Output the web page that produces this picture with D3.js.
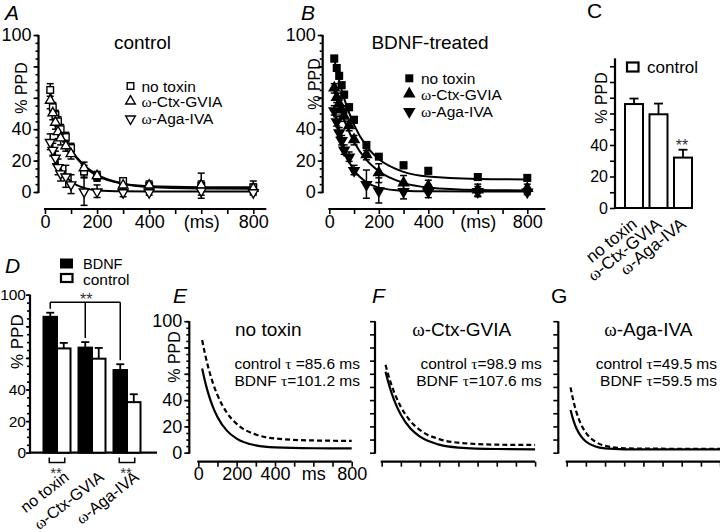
<!DOCTYPE html>
<html><head><meta charset="utf-8">
<script src="https://cdn.jsdelivr.net/npm/d3@7"></script>
<style>
body{margin:0;background:#fff}
svg{display:block}
</style></head><body>
<svg id="c" width="720" height="532"></svg>
<script>
// ---------- data ----------
const times = [20,30,40,50,60,80,100,150,200,300,400,600,800];
const fitTimes = [20,35,50,75,100,150,200,300,400,600,800];
const toxins = ["no toxin","ω-Ctx-GVIA","ω-Aga-IVA"];

// A: control
const ctlNoToxin    = [65,54,49,45,40,35,28,13,10,7,4,4,3];
const ctlNoToxinErr = [4,3,3,3,3,3,3,4,3,2,3,8,4];
const ctlCtx        = [58,50,44,38,34,29,24,15,10,4,4,4,2];
const ctlCtxErr     = [5,4,4,4,4,3,3,4,3,2,2,3,3];
const ctlAga        = [32,27,22,16,12,10,5,0.5,0.5,0,0,1,0];
const ctlAgaErr     = [5,4,4,5,5,7,6,9,4,3,2,3,2];
const ctlNoToxinFit = [64.0,54.2,45.9,35.1,26.9,16.4,10.4,5.3,3.7,3.1,3.0];
const ctlCtxFit     = [58.0,50.1,43.3,34.1,26.9,17.0,11.1,5.3,3.2,2.2,2.0];
const ctlAgaFit     = [32.3,24.0,17.8,10.8,6.7,2.6,1.1,0.4,0.3,0.3,0.3];

// B: BDNF-treated
const bdnfNoToxin    = [85,79,74,68,62,54,46,30,22.5,17,13.5,9.5,9];
const bdnfNoToxinErr = [2,2,2,2,2,2,2,2,1.5,2,2,2,2];
const bdnfCtx        = [66,60,56,52,48,42,33,23.5,12,5.5,3.5,1,2];
const bdnfCtxErr     = [3,3,3,3,3,3,3,3,6,5,4,4,3];
const bdnfAga        = [52,45,38,33,27,22.5,14,5,1,0.6,0.4,0.5,0.3];
const bdnfAgaErr     = [3,3,3,3,3,3,3,9,8,5,4,3,2];
const bdnfNoToxinFit = [84.7,74.2,65.0,52.6,42.8,29.2,21.0,12.8,9.8,8.3,8.0];
const bdnfCtxFit     = [66.0,57.6,50.2,40.0,31.9,20.4,13.2,5.8,2.9,1.3,1.0];
const bdnfAgaFit     = [52.3,40.7,31.7,20.9,13.9,6.2,2.8,0.8,0.4,0.3,0.3];

// C / D: bar values (at 20 ms)
const barBDNF    = [86,66.5,52.3];
const barBDNFErr = [2.6,3.5,3.7];
const barCtl     = [66,59.5,32];
const barCtlErr  = [3.5,6.8,5];

// E-G: fitted curves compared
const eCtlFit  = [64.1,54.3,46.1,35.3,27.2,16.6,10.7,5.6,4.0,3.4,3.3];
const eBdnfFit = [85.7,75.1,66.0,53.5,43.8,30.2,21.9,13.8,10.8,9.3,9.0];
const fCtlFit  = [61.6,53.3,46.1,36.4,28.9,18.4,12.2,6.1,3.9,2.8,2.6];
const fBdnfFit = [66.8,58.8,51.9,42.4,34.8,24.0,17.2,10.3,7.6,6.1,5.9];
const gCtlFit  = [32.5,24.6,18.8,12.4,8.5,4.7,3.3,2.6,2.5,2.5,2.5];
const gBdnfFit = [49.7,39.3,31.2,21.5,15.2,8.3,5.3,3.4,3.1,3.0,3.0];
const tauCtl  = ["85.6","98.9","49.5"];
const tauBdnf = ["101.2","107.6","59.5"];

const yLabelsMain = [0,20,40,100];
const yLabelsC = [0,20,40];
const xLabelVals = [0,200,400,600,800];

// ---------- helpers ----------
const FONT = '"Liberation Sans", Arial, Helvetica, sans-serif';
const SERIF = '"Liberation Serif", "Times New Roman", serif';
const svg = d3.select('#c').attr('font-family', FONT);

function rich(t, s){
  s.split(/(ω|τ)/).forEach(p=>{
    if(!p) return;
    const ts = t.append('tspan').text(p);
    if(p==='ω'||p==='τ') ts.attr('font-family', SERIF);
  });
  return t;
}
function txt(x,y,s,size,anchor,extra){
  const t = svg.append('text').attr('x',x).attr('y',y).attr('font-size',size)
    .attr('text-anchor',anchor||'start').attr('fill','#000');
  if(extra) t.attr('font-style',extra);
  return rich(t,s);
}
function ylab(x,y,size){
  svg.append('text').attr('transform',`translate(${x},${y}) rotate(-90)`)
    .attr('text-anchor','middle').attr('font-size',size).text('% PPD');
}
function styleAx(g,size){
  g.attr('font-family',FONT).attr('font-size',size);
  g.select('.domain').remove();
  g.selectAll('.tick line').attr('stroke','#000').attr('stroke-width',1.6);
  g.selectAll('.tick text').attr('fill','#000');
}
function yAxis(x0, y, top, minorStep, majorStep, labels, size, pad, majLen){
  const g = svg.append('g').attr('transform',`translate(${x0},0)`);
  if(minorStep){
    g.append('g').call(d3.axisLeft(y).tickValues(d3.range(0,top+0.01,minorStep)).tickSize(3).tickFormat(''))
      .call(s=>styleAx(s,size));
  }
  g.append('g').call(d3.axisLeft(y).tickValues(d3.range(0,top+0.01,majorStep)).tickSize(majLen||5)
      .tickPadding(pad==null?2:pad).tickFormat(d=>labels.includes(d)?d:''))
    .call(s=>styleAx(s,size));
  g.append('line').attr('x1',0).attr('x2',0).attr('y1',y(0)+1).attr('y2',y(top))
    .attr('stroke','#000').attr('stroke-width',2.2);
}
function xAxis(x, y0, ext, fmt, size){
  const g = svg.append('g').attr('transform',`translate(0,${y0})`);
  g.call(d3.axisBottom(x).tickValues(d3.range(0,801,100)).tickSize(5).tickPadding(1).tickFormat(fmt))
    .call(s=>styleAx(s,size));
  g.append('line').attr('x1',x(0)-1).attr('x2',x(800)+ext).attr('y1',0).attr('y2',0)
    .attr('stroke','#000').attr('stroke-width',2.2);
}
function marker(g,type,filled,cx,cy){
  const fill = filled?'#000':'#fff';
  if(type==='square'){
    g.append('rect').attr('x',cx-3.3).attr('y',cy-3.3).attr('width',6.6).attr('height',6.6)
      .attr('fill',fill).attr('stroke','#000').attr('stroke-width',1.4);
  } else {
    g.append('path').attr('d',d3.symbol(d3.symbolTriangle,filled?44:40)())
      .attr('transform',`translate(${cx},${cy + (type==='down'?0.5:-0.5)}) rotate(${type==='down'?180:0})`)
      .attr('fill',fill).attr('stroke','#000').attr('stroke-width',1.4);
  }
}
const fitLine = (x,y)=>d3.line().x(d=>x(d[0])).y(d=>y(d[1])).curve(d3.curveMonotoneX);

function scatterPanel(x,y,series,filled){
  const g = svg.append('g');
  series.forEach(s=>{
    g.append('path').datum(fitTimes.map((t,i)=>[t,s.fit[i]]))
      .attr('d',fitLine(x,y)).attr('fill','none').attr('stroke','#000').attr('stroke-width',2);
  });
  series.forEach(s=>{
    times.forEach((t,i)=>{
      const v=s.vals[i], e=s.err[i], cx=x(t);
      g.append('line').attr('x1',cx).attr('x2',cx).attr('y1',y(v-e)).attr('y2',y(v+e))
        .attr('stroke','#000').attr('stroke-width',1.5);
      [v-e,v+e].forEach(w=>g.append('line').attr('x1',cx-3.5).attr('x2',cx+3.5)
        .attr('y1',y(w)).attr('y2',y(w)).attr('stroke','#000').attr('stroke-width',1.5));
    });
  });
  series.forEach(s=>times.forEach((t,i)=>marker(g,s.type,filled,x(t),y(s.vals[i]))));
}

// ---------- Panel A ----------
const xA = d3.scaleLinear([0,800],[45,253.3]);
const yA = d3.scaleLinear([0,100],[192,35]);
yAxis(38.5,yA,100,5,20,yLabelsMain,18);
xAxis(xA,209,13,d=>d===600?'(ms)':(xLabelVals.includes(d)?d:''),18);
ylab(26.5,88,16);
scatterPanel(xA,yA,[
  {vals:ctlNoToxin,err:ctlNoToxinErr,fit:ctlNoToxinFit,type:'square'},
  {vals:ctlCtx,err:ctlCtxErr,fit:ctlCtxFit,type:'up'},
  {vals:ctlAga,err:ctlAgaErr,fit:ctlAgaFit,type:'down'}],false);
txt(142.5,48.5,'control',19,'middle');
txt(5,20,'A',21,'start','italic');
{
  const lg = svg.append('g');
  ['square','up','down'].forEach((tp,i)=>{
    const yy=[86,101.7,118.3][i];
    marker(lg,tp,false,130.5,yy);
    txt(141.5,yy+5.5,toxins[i],15.5);
  });
}

// ---------- Panel B ----------
const xB = d3.scaleLinear([0,800],[329.3,527.3]);
const yB = d3.scaleLinear([0,100],[192,35]);
yAxis(322.7,yB,100,5,20,yLabelsMain,18);
xAxis(xB,209,18,d=>d===600?'(ms)':(xLabelVals.includes(d)?d:''),18);
ylab(320,84,16);
scatterPanel(xB,yB,[
  {vals:bdnfNoToxin,err:bdnfNoToxinErr,fit:bdnfNoToxinFit,type:'square'},
  {vals:bdnfCtx,err:bdnfCtxErr,fit:bdnfCtxFit,type:'up'},
  {vals:bdnfAga,err:bdnfAgaErr,fit:bdnfAgaFit,type:'down'}],true);
txt(430,48.5,'BDNF-treated',19,'middle');
txt(301,20,'B',21,'start','italic');
{
  const lg = svg.append('g');
  ['square','up','down'].forEach((tp,i)=>{
    const yy=[78.3,94.3,111][i];
    marker(lg,tp,true,409.3,yy);
    txt(421,yy+5.5,toxins[i],15.5);
  });
}

// ---------- Panel C ----------
const yC = d3.scaleLinear([0,100],[208,50.5]);
const xC = d3.scalePoint(toxins,[634,683]);
yAxis(615,yC,95,0,10,yLabelsC,16);
svg.append('line').attr('x1',614).attr('x2',690).attr('y1',yC(0)).attr('y2',yC(0))
  .attr('stroke','#000').attr('stroke-width',2.2);
ylab(606.5,98,16);
toxins.forEach((k,i)=>{
  const cx=xC(k), v=barCtl[i], e=barCtlErr[i];
  svg.append('line').attr('x1',cx).attr('x2',cx).attr('y1',yC(v)).attr('y2',yC(v+e)).attr('stroke','#000').attr('stroke-width',1.8);
  svg.append('line').attr('x1',cx-4.5).attr('x2',cx+4.5).attr('y1',yC(v+e)).attr('y2',yC(v+e)).attr('stroke','#000').attr('stroke-width',1.8);
  svg.append('rect').attr('x',cx-9).attr('y',yC(v)).attr('width',18).attr('height',yC(0)-yC(v))
    .attr('fill','#fff').attr('stroke','#000').attr('stroke-width',2);
  const t = svg.append('text').attr('transform',`translate(${cx+4},${226}) rotate(-39)`)
    .attr('text-anchor','end').attr('font-size',17);
  rich(t,k);
});
txt(682,151,'**',16,'middle').attr('fill','#333');
svg.append('rect').attr('x',627).attr('y',62.5).attr('width',11.5).attr('height',9)
  .attr('fill','#fff').attr('stroke','#000').attr('stroke-width',2.2);
txt(647,73,'control',17);
txt(587,18,'C',21);

// ---------- Panel D ----------
const yD = d3.scaleLinear([0,100],[452.7,294.7]);
const xD = d3.scalePoint(toxins,[57,127]);
const bw = 13.5;
yAxis(30,yD,100,5,20,yLabelsMain,15.5,0,4);
svg.append('line').attr('x1',29).attr('x2',157).attr('y1',yD(0)).attr('y2',yD(0))
  .attr('stroke','#000').attr('stroke-width',2.2);
ylab(23,341.7,17);
toxins.forEach((k,i)=>{
  const c=xD(k);
  [[barBDNF[i],barBDNFErr[i],c-bw,'#000'],[barCtl[i],barCtlErr[i],c,'#fff']].forEach(([v,e,x0,f])=>{
    const cx=x0+bw/2;
    svg.append('line').attr('x1',cx).attr('x2',cx).attr('y1',yD(v)).attr('y2',yD(v+e)).attr('stroke','#000').attr('stroke-width',1.8);
    svg.append('line').attr('x1',cx-4).attr('x2',cx+4).attr('y1',yD(v+e)).attr('y2',yD(v+e)).attr('stroke','#000').attr('stroke-width',1.8);
    svg.append('rect').attr('x',x0).attr('y',yD(v)).attr('width',bw).attr('height',yD(0)-yD(v))
      .attr('fill',f).attr('stroke','#000').attr('stroke-width',2);
  });
  const t = svg.append('text').attr('transform',`translate(${c+13},${479}) rotate(-38)`)
    .attr('text-anchor','end').attr('font-size',16);
  rich(t,k);
});
// significance brackets
{
  const cs = toxins.map(k=>xD(k)-bw/2);
  const top = 302.3;
  svg.append('line').attr('x1',cs[0]).attr('x2',cs[2]).attr('y1',top).attr('y2',top).attr('stroke','#000').attr('stroke-width',1.5);
  cs.forEach((c,i)=>svg.append('line').attr('x1',c).attr('x2',c).attr('y1',top)
    .attr('y2',yD(barBDNF[i]+barBDNFErr[i])-4).attr('stroke','#000').attr('stroke-width',1.5));
  txt(cs[1]+1,305,'**',16,'middle').attr('fill','#333');
  [0,2].forEach(i=>{
    const a=xD(toxins[i])-bw/2-1, b=xD(toxins[i])+bw/2+1, yb=462.5;
    svg.append('path').attr('d',`M${a},${yb-5}V${yb}H${b}V${yb-5}`).attr('fill','none')
      .attr('stroke','#000').attr('stroke-width',1.5);
    txt((a+b)/2-1,478,'**',15,'middle').attr('fill','#333');
  });
}
svg.append('rect').attr('x',60).attr('y',258.5).attr('width',13).attr('height',10).attr('fill','#000');
svg.append('rect').attr('x',61).attr('y',274).attr('width',11.5).attr('height',8)
  .attr('fill','#fff').attr('stroke','#000').attr('stroke-width',2.2);
txt(83,268.5,'BDNF',14.5);
txt(83,285,'control',15.5);
txt(5,273,'D',21,'start','italic');

// ---------- Panels E, F, G ----------
const yE = d3.scaleLinear([0,100],[452.7,321.2]);
const panels = [
  {x0:198.3, ax:189.3, title:'no toxin', tx:268.3, right:360, ctl:eCtlFit, bdnf:eBdnfFit, letter:'E', lx:173, ital:'italic', labels:true, sep:' '},
  {x0:381.7, ax:375, title:'ω-Ctx-GVIA', tx:461.7, right:541.7, ctl:fCtlFit, bdnf:fBdnfFit, letter:'F', lx:372, ital:'italic', labels:false, sep:''},
  {x0:566.7, ax:558.3, title:'ω-Aga-IVA', tx:648.3, right:717, ctl:gCtlFit, bdnf:gBdnfFit, letter:'G', lx:551, ital:'normal', labels:false, sep:''}
];
panels.forEach((p,i)=>{
  const x = d3.scaleLinear([0,800],[p.x0,p.x0+153.4]);
  if(p.labels){
    yAxis(p.ax,yE,100,5,20,yLabelsMain,18);
    ylab(180,357,16);
    xAxis(x,461.7,0,d=>d===600?'ms':(xLabelVals.includes(d)?d:''),18);
  } else {
    yAxis(p.ax,yE,100,0,10,[],18);
    xAxis(x,461.7,0,()=> '',18);
  }
  svg.append('path').datum(fitTimes.map((t,j)=>[t,p.ctl[j]]))
    .attr('d',fitLine(x,yE)).attr('fill','none').attr('stroke','#000').attr('stroke-width',2.2);
  svg.append('path').datum(fitTimes.map((t,j)=>[t,p.bdnf[j]]))
    .attr('d',fitLine(x,yE)).attr('fill','none').attr('stroke','#000').attr('stroke-width',2.2)
    .attr('stroke-dasharray','5,3');
  txt(p.tx,336,p.title,19,'middle');
  txt(p.right,369,'control τ'+p.sep+'='+tauCtl[i]+' ms',15.5,'end');
  txt(p.right,385.5,'BDNF τ='+tauBdnf[i]+' ms',15.5,'end');
  txt(p.lx,303,p.letter,21,'start',p.ital);
});
</script></body></html>
